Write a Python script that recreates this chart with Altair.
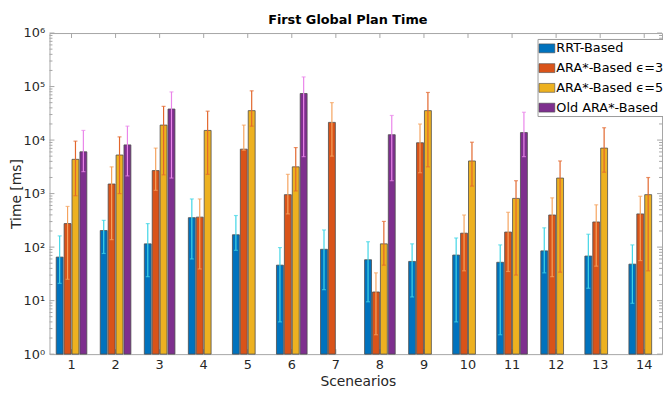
import altair as alt
import pandas as pd

scenarios = [str(i) for i in range(1, 15)]
series_names = ["RRT-Based", "ARA*-Based ϵ=3", "ARA*-Based ϵ=5", "Old ARA*-Based"]

rrt_mean = [65, 204, 115, 355, 170, 46, 91, 58, 54, 71, 52, 85, 68, 48]
rrt_hi = [162, 316, 275, 794, 389, 98, 209, 126, 115, 148, 110, 229, 174, 110]
rrt_lo = [21, 76, 28, 60, 87, 4.0, 16, 9.5, 11.7, 4.0, 2.3, 33, 17, 8.9]

ara3_mean = [275, 1510, 2690, 363, 6760, 955, 21400, 14.5, 8910, 182, 191, 398, 295, 417]
ara3_hi = [575, 3160, 7080, 794, 19050, 2290, 50100, 33, 19950, 398, 447, 832, 617, 891]
ara3_lo = [25, 138, 1150, 39, 6460, 417, 5010, 2.3, 2450, 36, 35, 28, 44, 56]

ara5_mean = [4365, 5250, 19050, 15140, 35480, 3160, None, 115, 35480, 4070, 813, 1950, 7080, 955]
ara5_hi = [9550, 11480, 42660, 34670, 83180, 7240, None, 302, 77600, 9120, 1740, 4070, 17000, 1995]
ara5_lo = [912, 1000, 2240, 2290, 18200, 1120, None, 46, 3160, 1380, 30, 34, 2510, 36]

old_mean = [6030, 8130, 38020, None, None, 74130, None, 12590, None, None, 13800, None, None, None]
old_hi = [15140, 18200, 79430, None, None, 151400, None, 28840, None, None, 33110, None, None, None]
old_lo = [2570, 2140, 1950, None, None, 4900, None, 1740, None, None, 4900, None, None, None]

bar_colors = ["#0072BD", "#D95319", "#EDB120", "#7E2F8E"]
err_colors = ["#3FD5E6", "#F5A35E", "#E2662C", "#EA85EA"]

decades = [1, 10, 100, 1000, 10000, 100000, 1000000]
minor = [k * d for d in decades[:-1] for k in range(2, 10)]

rows = []
for name, m, h, l in zip(series_names,
                         [rrt_mean, ara3_mean, ara5_mean, old_mean],
                         [rrt_hi, ara3_hi, ara5_hi, old_hi],
                         [rrt_lo, ara3_lo, ara5_lo, old_lo]):
    for s, mv, hv, lv in zip(scenarios, m, h, l):
        if mv is not None:
            rows.append({"scenario": s, "series": name, "mean": mv, "hi": hv, "lo": lv})
df = pd.DataFrame(rows)

W, H = 620, 325
frame_col = "#a6a6a6"
text_col = "#262626"

xenc = alt.X("scenario:N", sort=scenarios,
             scale=alt.Scale(domain=scenarios, range=[0, 624.3], paddingInner=0.3048, paddingOuter=0.1524),
             axis=alt.Axis(title="Scenearios", ticks=False, domain=False, labelAngle=0,
                           labelFontSize=13, labelColor=text_col, labelPadding=5,
                           titleFontSize=14, titleFontWeight="normal", titleColor=text_col, titlePadding=3))
xoff = alt.XOffset("series:N", sort=series_names,
                   scale=alt.Scale(domain=series_names, paddingInner=0.125, paddingOuter=0))
yscale = alt.Scale(type="log", domain=[1, 1000000])

base = alt.Chart(df)

bars = base.mark_bar(stroke="#4d4d4d", strokeWidth=0.8).encode(
    x=xenc, xOffset=xoff,
    y=alt.Y("mean:Q", scale=yscale,
            axis=alt.Axis(title="Time [ms]", values=decades, ticks=False, domain=False, grid=False,
                          labelExpr="'10' + ['⁰','¹','²','³','⁴','⁵','⁶'][round(log(datum.value)/LN10)]",
                          labelFontSize=13, labelColor=text_col, labelPadding=5,
                          titleFontSize=14, titleFontWeight="normal", titleColor=text_col,
                          titleX=-33, titleY=H / 2, titleAngle=270, titleBaseline="middle",
                          titleAlign="center")),
    y2=alt.datum(1),
    color=alt.Color("series:N", sort=series_names,
                    scale=alt.Scale(domain=series_names, range=bar_colors),
                    legend=alt.Legend(title=None, orient="none", legendX=494, legendY=6,
                                      strokeColor="#999999", fillColor="white", padding=1,
                                      rowPadding=4, labelFontSize=13, labelColor="black",
                                      labelOffset=1,
                                      symbolType="M-1,-0.5625H1V0.5625H-1Z", symbolSize=256,
                                      symbolStrokeColor="#4d4d4d", symbolStrokeWidth=0.6,
                                      symbolOpacity=1)),
)

errc = alt.Color("series:N", sort=series_names,
                 scale=alt.Scale(domain=series_names, range=err_colors), legend=None)

err = base.mark_rule(strokeWidth=1.2).encode(
    x=xenc, xOffset=xoff,
    y=alt.Y("lo:Q", scale=yscale), y2="hi:Q", color=errc)
cap_hi = base.mark_tick(thickness=1.2, size=4, orient="horizontal").encode(
    x=xenc, xOffset=xoff, y=alt.Y("hi:Q", scale=yscale), color=errc)
cap_lo = base.mark_tick(thickness=1.2, size=4, orient="horizontal").encode(
    x=xenc, xOffset=xoff, y=alt.Y("lo:Q", scale=yscale), color=errc)

xt = pd.DataFrame({"scenario": scenarios})
xt_top = alt.Chart(xt).mark_rule(color=frame_col).encode(x=xenc, y=alt.value(0), y2=alt.value(5))
xt_bot = alt.Chart(xt).mark_rule(color=frame_col).encode(x=xenc, y=alt.value(H), y2=alt.value(H - 5))

yt = pd.DataFrame({"v": decades})
ym = pd.DataFrame({"v": minor})
yt_l = alt.Chart(yt).mark_rule(color=frame_col).encode(y=alt.Y("v:Q", scale=yscale), x=alt.value(0), x2=alt.value(5))
yt_r = alt.Chart(yt).mark_rule(color=frame_col).encode(y=alt.Y("v:Q", scale=yscale), x=alt.value(W), x2=alt.value(W - 5))
ym_l = alt.Chart(ym).mark_rule(color=frame_col).encode(y=alt.Y("v:Q", scale=yscale), x=alt.value(0), x2=alt.value(3))
ym_r = alt.Chart(ym).mark_rule(color=frame_col).encode(y=alt.Y("v:Q", scale=yscale), x=alt.value(W), x2=alt.value(W - 3))

chart = alt.layer(
    xt_bot, bars, err, cap_hi, cap_lo, xt_top, yt_l, yt_r, ym_l, ym_r
).resolve_scale(color="independent").properties(
    width=W, height=H,
    title=alt.TitleParams("First Global Plan Time", fontSize=13, fontWeight="bold",
                          anchor="middle", dx=-8, color="black", offset=0),
    autosize=alt.AutoSizeParams(type="none"),
    padding={"left": 42, "top": 23, "right": 1, "bottom": 37},
).configure(font="DejaVu Sans").configure_view(stroke=frame_col, strokeWidth=1)

chart.save("out.html", embed_options={"renderer": "svg", "actions": False})
